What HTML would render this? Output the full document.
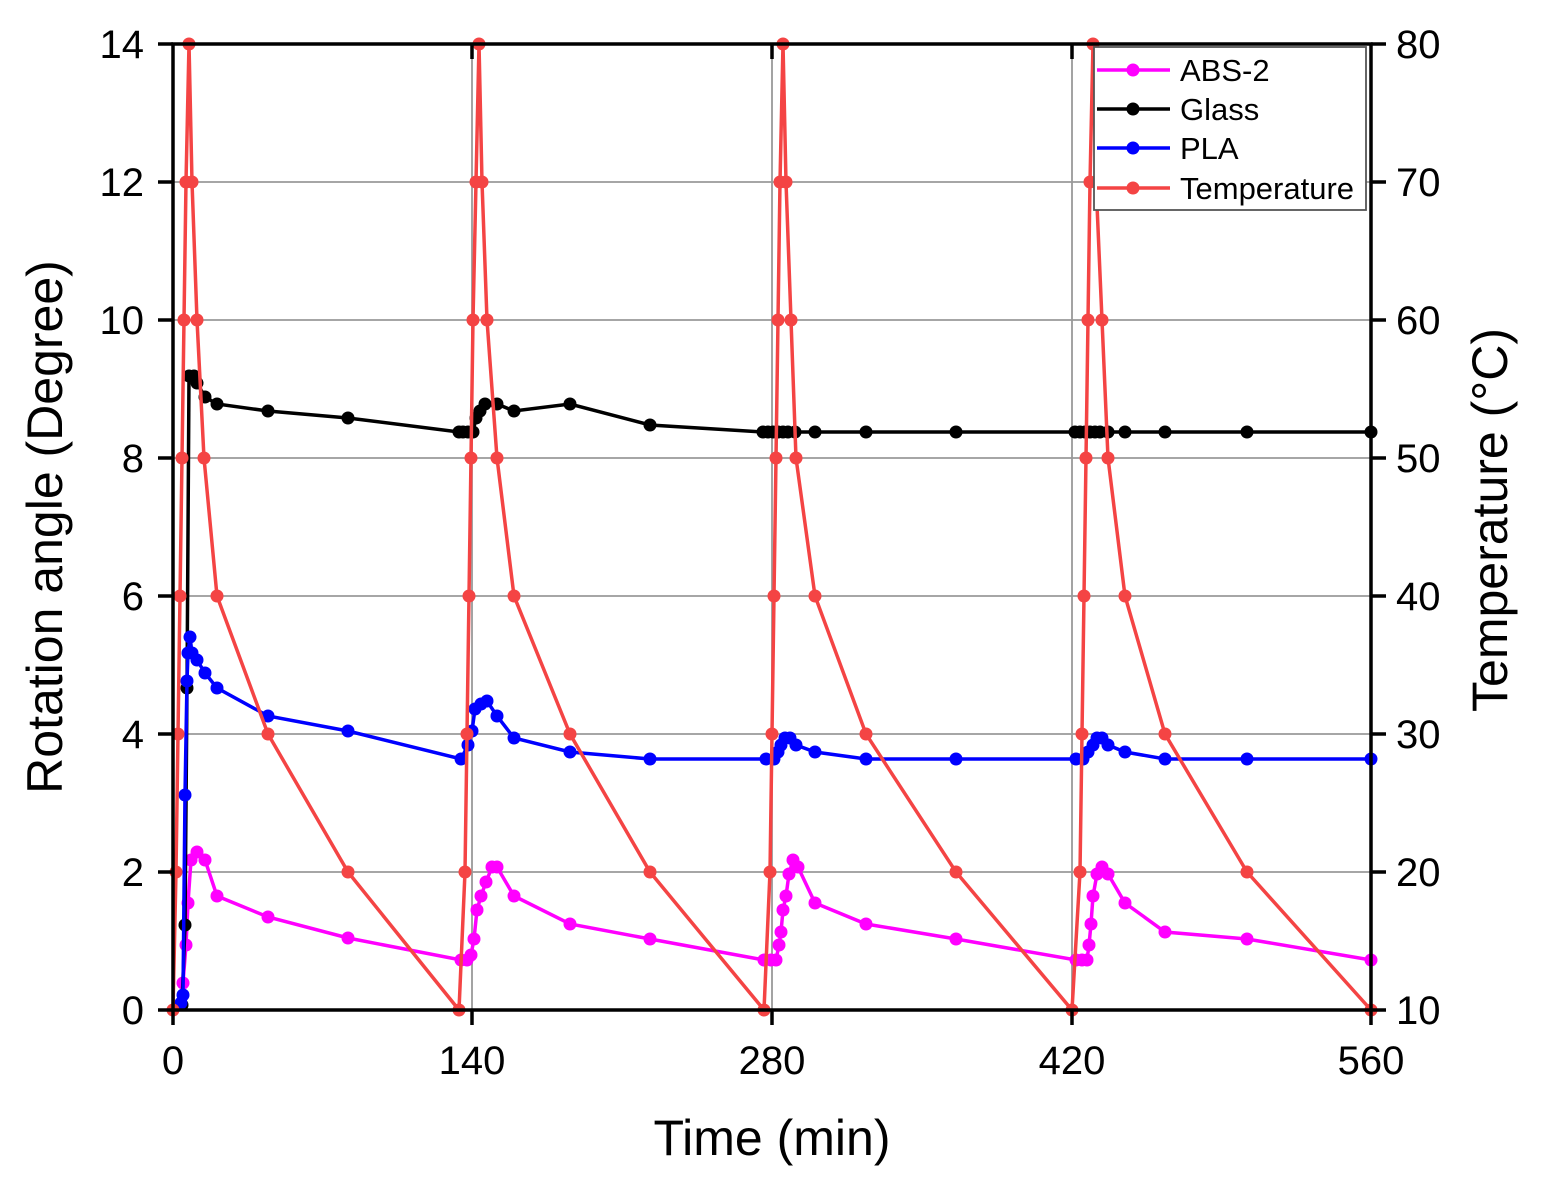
<!DOCTYPE html>
<html><head><meta charset="utf-8"><style>
html,body{margin:0;padding:0;background:#fff;}
svg{display:block;font-family:"Liberation Sans",Arial,sans-serif;}
svg polyline{stroke-width:3.5px;}
svg circle{r:6.5px;}
</style></head><body>
<svg width="1541" height="1182" viewBox="0 0 1541 1182" xmlns="http://www.w3.org/2000/svg">
<rect width="1541" height="1182" fill="#fff"/>
<g stroke="#999" stroke-width="1.8">
<line x1="173" y1="872" x2="1371" y2="872"/><line x1="173" y1="734" x2="1371" y2="734"/>
<line x1="173" y1="596" x2="1371" y2="596"/><line x1="173" y1="458" x2="1371" y2="458"/>
<line x1="173" y1="320" x2="1371" y2="320"/><line x1="173" y1="182" x2="1371" y2="182"/>
<line x1="472" y1="44" x2="472" y2="1010"/><line x1="772" y1="44" x2="772" y2="1010"/><line x1="1072" y1="44" x2="1072" y2="1010"/>
</g>
<polyline fill="none" stroke="#ff00ff" stroke-width="3.5" points="181,1005 183,983 186,945 188,903 191,860 197,852 205,860 217,896 268,917 348,938 461,960 467,960 471,955 474,939 477,910 481,896 486,882 492,867 497,867 514,896 570,924 650,939 764,960 771,960 776,960 779,945 781,932 783,910 786,896 789,874 793,860 798,867 815,903 866,924 956,939 1076,960 1082,960 1087,960 1089,945 1091,924 1093,896 1097,874 1102,867 1108,874 1125,903 1165,932 1247,939 1371,960"/>
<g fill="#ff00ff">
<circle cx="181" cy="1005" r="6.5"/><circle cx="183" cy="983" r="6.5"/><circle cx="186" cy="945" r="6.5"/><circle cx="188" cy="903" r="6.5"/><circle cx="191" cy="860" r="6.5"/><circle cx="197" cy="852" r="6.5"/><circle cx="205" cy="860" r="6.5"/><circle cx="217" cy="896" r="6.5"/><circle cx="268" cy="917" r="6.5"/><circle cx="348" cy="938" r="6.5"/><circle cx="461" cy="960" r="6.5"/><circle cx="467" cy="960" r="6.5"/><circle cx="471" cy="955" r="6.5"/><circle cx="474" cy="939" r="6.5"/><circle cx="477" cy="910" r="6.5"/><circle cx="481" cy="896" r="6.5"/><circle cx="486" cy="882" r="6.5"/><circle cx="492" cy="867" r="6.5"/><circle cx="497" cy="867" r="6.5"/><circle cx="514" cy="896" r="6.5"/><circle cx="570" cy="924" r="6.5"/><circle cx="650" cy="939" r="6.5"/><circle cx="764" cy="960" r="6.5"/><circle cx="771" cy="960" r="6.5"/><circle cx="776" cy="960" r="6.5"/><circle cx="779" cy="945" r="6.5"/><circle cx="781" cy="932" r="6.5"/><circle cx="783" cy="910" r="6.5"/><circle cx="786" cy="896" r="6.5"/><circle cx="789" cy="874" r="6.5"/><circle cx="793" cy="860" r="6.5"/><circle cx="798" cy="867" r="6.5"/><circle cx="815" cy="903" r="6.5"/><circle cx="866" cy="924" r="6.5"/><circle cx="956" cy="939" r="6.5"/><circle cx="1076" cy="960" r="6.5"/><circle cx="1082" cy="960" r="6.5"/><circle cx="1087" cy="960" r="6.5"/><circle cx="1089" cy="945" r="6.5"/><circle cx="1091" cy="924" r="6.5"/><circle cx="1093" cy="896" r="6.5"/><circle cx="1097" cy="874" r="6.5"/><circle cx="1102" cy="867" r="6.5"/><circle cx="1108" cy="874" r="6.5"/><circle cx="1125" cy="903" r="6.5"/><circle cx="1165" cy="932" r="6.5"/><circle cx="1247" cy="939" r="6.5"/><circle cx="1371" cy="960" r="6.5"/>
</g>
<polyline fill="none" stroke="#000" stroke-width="3.5" points="182,1005 185,925 187,688 189,376 194,376 197,383 205,397 217,404 268,411 348,418 459,432 463,432 468,432 473,432 476,418 480,411 485,404 497,404 514,411 570,404 650,425 763,432 768,432 773,432 778,432 783,432 788,432 795,432 815,432 866,432 956,432 1075,432 1080,432 1085,432 1090,432 1095,432 1100,432 1108,432 1125,432 1165,432 1247,432 1371,432"/>
<g fill="#000">
<circle cx="182" cy="1005" r="6.5"/><circle cx="185" cy="925" r="6.5"/><circle cx="187" cy="688" r="6.5"/><circle cx="189" cy="376" r="6.5"/><circle cx="194" cy="376" r="6.5"/><circle cx="197" cy="383" r="6.5"/><circle cx="205" cy="397" r="6.5"/><circle cx="217" cy="404" r="6.5"/><circle cx="268" cy="411" r="6.5"/><circle cx="348" cy="418" r="6.5"/><circle cx="459" cy="432" r="6.5"/><circle cx="463" cy="432" r="6.5"/><circle cx="468" cy="432" r="6.5"/><circle cx="473" cy="432" r="6.5"/><circle cx="476" cy="418" r="6.5"/><circle cx="480" cy="411" r="6.5"/><circle cx="485" cy="404" r="6.5"/><circle cx="497" cy="404" r="6.5"/><circle cx="514" cy="411" r="6.5"/><circle cx="570" cy="404" r="6.5"/><circle cx="650" cy="425" r="6.5"/><circle cx="763" cy="432" r="6.5"/><circle cx="768" cy="432" r="6.5"/><circle cx="773" cy="432" r="6.5"/><circle cx="778" cy="432" r="6.5"/><circle cx="783" cy="432" r="6.5"/><circle cx="788" cy="432" r="6.5"/><circle cx="795" cy="432" r="6.5"/><circle cx="815" cy="432" r="6.5"/><circle cx="866" cy="432" r="6.5"/><circle cx="956" cy="432" r="6.5"/><circle cx="1075" cy="432" r="6.5"/><circle cx="1080" cy="432" r="6.5"/><circle cx="1085" cy="432" r="6.5"/><circle cx="1090" cy="432" r="6.5"/><circle cx="1095" cy="432" r="6.5"/><circle cx="1100" cy="432" r="6.5"/><circle cx="1108" cy="432" r="6.5"/><circle cx="1125" cy="432" r="6.5"/><circle cx="1165" cy="432" r="6.5"/><circle cx="1247" cy="432" r="6.5"/><circle cx="1371" cy="432" r="6.5"/>
</g>
<polyline fill="none" stroke="#0000ff" stroke-width="3.5" points="181,1003 183,995 185,795 187,681 188,653 190,637 192,653 197,660 205,673 217,688 268,716 348,731 461,759 468,745 472,731 475,709 481,704 487,701 497,716 514,738 570,752 650,759 766,759 774,759 778,752 781,745 785,738 790,738 796,745 815,752 866,759 956,759 1076,759 1083,759 1088,752 1093,745 1097,738 1102,738 1108,745 1125,752 1165,759 1247,759 1371,759"/>
<g fill="#0000ff">
<circle cx="181" cy="1003" r="6.5"/><circle cx="183" cy="995" r="6.5"/><circle cx="185" cy="795" r="6.5"/><circle cx="187" cy="681" r="6.5"/><circle cx="188" cy="653" r="6.5"/><circle cx="190" cy="637" r="6.5"/><circle cx="192" cy="653" r="6.5"/><circle cx="197" cy="660" r="6.5"/><circle cx="205" cy="673" r="6.5"/><circle cx="217" cy="688" r="6.5"/><circle cx="268" cy="716" r="6.5"/><circle cx="348" cy="731" r="6.5"/><circle cx="461" cy="759" r="6.5"/><circle cx="468" cy="745" r="6.5"/><circle cx="472" cy="731" r="6.5"/><circle cx="475" cy="709" r="6.5"/><circle cx="481" cy="704" r="6.5"/><circle cx="487" cy="701" r="6.5"/><circle cx="497" cy="716" r="6.5"/><circle cx="514" cy="738" r="6.5"/><circle cx="570" cy="752" r="6.5"/><circle cx="650" cy="759" r="6.5"/><circle cx="766" cy="759" r="6.5"/><circle cx="774" cy="759" r="6.5"/><circle cx="778" cy="752" r="6.5"/><circle cx="781" cy="745" r="6.5"/><circle cx="785" cy="738" r="6.5"/><circle cx="790" cy="738" r="6.5"/><circle cx="796" cy="745" r="6.5"/><circle cx="815" cy="752" r="6.5"/><circle cx="866" cy="759" r="6.5"/><circle cx="956" cy="759" r="6.5"/><circle cx="1076" cy="759" r="6.5"/><circle cx="1083" cy="759" r="6.5"/><circle cx="1088" cy="752" r="6.5"/><circle cx="1093" cy="745" r="6.5"/><circle cx="1097" cy="738" r="6.5"/><circle cx="1102" cy="738" r="6.5"/><circle cx="1108" cy="745" r="6.5"/><circle cx="1125" cy="752" r="6.5"/><circle cx="1165" cy="759" r="6.5"/><circle cx="1247" cy="759" r="6.5"/><circle cx="1371" cy="759" r="6.5"/>
</g>
<polyline fill="none" stroke="#f44444" stroke-width="3.5" points="173,1010 176,872 178,734 180,596 182,458 184,320 186,182 189,44 192,182 197,320 204,458 217,596 268,734 348,872 459,1010 465,872 467,734 469,596 471,458 473,320 476,182 479,44 482,182 487,320 497,458 514,596 570,734 650,872 764,1010 770,872 772,734 774,596 776,458 778,320 780,182 783,44 786,182 791,320 796,458 815,596 866,734 956,872 1072,1010 1080,872 1082,734 1084,596 1086,458 1088,320 1090,182 1093,44 1096,182 1102,320 1108,458 1125,596 1165,734 1247,872 1371,1010"/>
<g fill="#f44444">
<circle cx="173" cy="1010" r="6.5"/><circle cx="176" cy="872" r="6.5"/><circle cx="178" cy="734" r="6.5"/><circle cx="180" cy="596" r="6.5"/><circle cx="182" cy="458" r="6.5"/><circle cx="184" cy="320" r="6.5"/><circle cx="186" cy="182" r="6.5"/><circle cx="189" cy="44" r="6.5"/><circle cx="192" cy="182" r="6.5"/><circle cx="197" cy="320" r="6.5"/><circle cx="204" cy="458" r="6.5"/><circle cx="217" cy="596" r="6.5"/><circle cx="268" cy="734" r="6.5"/><circle cx="348" cy="872" r="6.5"/><circle cx="459" cy="1010" r="6.5"/><circle cx="465" cy="872" r="6.5"/><circle cx="467" cy="734" r="6.5"/><circle cx="469" cy="596" r="6.5"/><circle cx="471" cy="458" r="6.5"/><circle cx="473" cy="320" r="6.5"/><circle cx="476" cy="182" r="6.5"/><circle cx="479" cy="44" r="6.5"/><circle cx="482" cy="182" r="6.5"/><circle cx="487" cy="320" r="6.5"/><circle cx="497" cy="458" r="6.5"/><circle cx="514" cy="596" r="6.5"/><circle cx="570" cy="734" r="6.5"/><circle cx="650" cy="872" r="6.5"/><circle cx="764" cy="1010" r="6.5"/><circle cx="770" cy="872" r="6.5"/><circle cx="772" cy="734" r="6.5"/><circle cx="774" cy="596" r="6.5"/><circle cx="776" cy="458" r="6.5"/><circle cx="778" cy="320" r="6.5"/><circle cx="780" cy="182" r="6.5"/><circle cx="783" cy="44" r="6.5"/><circle cx="786" cy="182" r="6.5"/><circle cx="791" cy="320" r="6.5"/><circle cx="796" cy="458" r="6.5"/><circle cx="815" cy="596" r="6.5"/><circle cx="866" cy="734" r="6.5"/><circle cx="956" cy="872" r="6.5"/><circle cx="1072" cy="1010" r="6.5"/><circle cx="1080" cy="872" r="6.5"/><circle cx="1082" cy="734" r="6.5"/><circle cx="1084" cy="596" r="6.5"/><circle cx="1086" cy="458" r="6.5"/><circle cx="1088" cy="320" r="6.5"/><circle cx="1090" cy="182" r="6.5"/><circle cx="1093" cy="44" r="6.5"/><circle cx="1096" cy="182" r="6.5"/><circle cx="1102" cy="320" r="6.5"/><circle cx="1108" cy="458" r="6.5"/><circle cx="1125" cy="596" r="6.5"/><circle cx="1165" cy="734" r="6.5"/><circle cx="1247" cy="872" r="6.5"/><circle cx="1371" cy="1010" r="6.5"/>
</g>
<rect x="173" y="44" width="1198" height="966" fill="none" stroke="#000" stroke-width="3.5"/>
<g stroke="#000" stroke-width="3.5">
<line x1="158" y1="44" x2="173" y2="44"/><line x1="158" y1="182" x2="173" y2="182"/><line x1="158" y1="320" x2="173" y2="320"/><line x1="158" y1="458" x2="173" y2="458"/><line x1="158" y1="596" x2="173" y2="596"/><line x1="158" y1="734" x2="173" y2="734"/><line x1="158" y1="872" x2="173" y2="872"/><line x1="158" y1="1010" x2="173" y2="1010"/>
<line x1="1371" y1="44" x2="1386" y2="44"/><line x1="1371" y1="182" x2="1386" y2="182"/><line x1="1371" y1="320" x2="1386" y2="320"/><line x1="1371" y1="458" x2="1386" y2="458"/><line x1="1371" y1="596" x2="1386" y2="596"/><line x1="1371" y1="734" x2="1386" y2="734"/><line x1="1371" y1="872" x2="1386" y2="872"/><line x1="1371" y1="1010" x2="1386" y2="1010"/>
<line x1="173" y1="1010" x2="173" y2="1025"/><line x1="472" y1="1010" x2="472" y2="1025"/><line x1="772" y1="1010" x2="772" y2="1025"/><line x1="1072" y1="1010" x2="1072" y2="1025"/><line x1="1371" y1="1010" x2="1371" y2="1025"/>
<line x1="472" y1="44" x2="472" y2="59"/><line x1="772" y1="44" x2="772" y2="59"/><line x1="1072" y1="44" x2="1072" y2="59"/>
</g>
<g font-size="40" fill="#000" text-anchor="end">
<text x="144" y="58">14</text><text x="144" y="196">12</text><text x="144" y="334">10</text><text x="144" y="472">8</text><text x="144" y="610">6</text><text x="144" y="748">4</text><text x="144" y="886">2</text><text x="144" y="1024">0</text>
</g>
<g font-size="40" fill="#000" text-anchor="start">
<text x="1396" y="58">80</text><text x="1396" y="196">70</text><text x="1396" y="334">60</text><text x="1396" y="472">50</text><text x="1396" y="610">40</text><text x="1396" y="748">30</text><text x="1396" y="886">20</text><text x="1396" y="1024">10</text>
</g>
<g font-size="40" fill="#000" text-anchor="middle">
<text x="173" y="1074">0</text><text x="472" y="1074">140</text><text x="772" y="1074">280</text><text x="1072" y="1074">420</text><text x="1371" y="1074">560</text>
</g>
<text x="772" y="1155" font-size="50" text-anchor="middle">Time (min)</text>
<text transform="translate(62,527) rotate(-90)" font-size="50" text-anchor="middle">Rotation angle (Degree)</text>
<text transform="translate(1507,520) rotate(-90)" font-size="50" text-anchor="middle">Temperature (°C)</text>
<rect x="1094" y="47" width="272" height="163" fill="#fff" stroke="#555" stroke-width="1.8"/>
<g>
<line x1="1097" y1="70" x2="1170" y2="70" stroke="#ff00ff" stroke-width="3.5"/><circle cx="1133" cy="70" r="6.5" fill="#ff00ff"/>
<line x1="1097" y1="109" x2="1170" y2="109" stroke="#000" stroke-width="3.5"/><circle cx="1133" cy="109" r="6.5" fill="#000"/>
<line x1="1097" y1="148" x2="1170" y2="148" stroke="#0000ff" stroke-width="3.5"/><circle cx="1133" cy="148" r="6.5" fill="#0000ff"/>
<line x1="1097" y1="188" x2="1170" y2="188" stroke="#f44444" stroke-width="3.5"/><circle cx="1133" cy="188" r="6.5" fill="#f44444"/>
</g>
<g font-size="31" fill="#000"><text x="1180" y="81">ABS-2</text><text x="1180" y="120">Glass</text><text x="1180" y="159">PLA</text><text x="1180" y="199">Temperature</text></g>
</svg>
</body></html>
